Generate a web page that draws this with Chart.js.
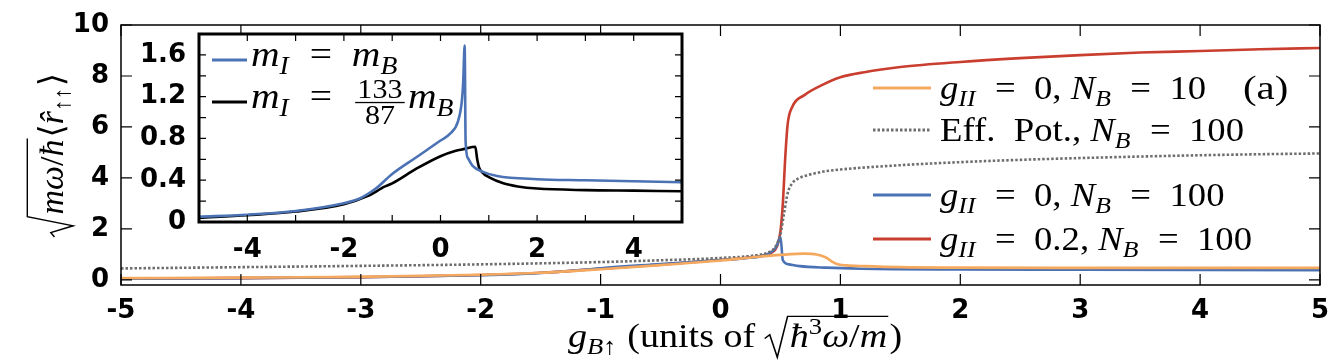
<!DOCTYPE html>
<html>
<head>
<meta charset="utf-8">
<script src="https://cdn.jsdelivr.net/npm/chart.js@4.4.1/dist/chart.umd.min.js"></script>
<style>
  html, body { margin: 0; padding: 0; background: #fff; }
  #wrap { position: relative; width: 1342px; height: 363px; }
  #wrap canvas { position: absolute; left: 0; top: 0; }
</style>
</head>
<body>
<div id="wrap">
  <canvas id="mainChart" width="1342" height="363"></canvas>
  <canvas id="insetChart" width="1342" height="363"></canvas>
</div>
<script>
// tick values
const mainXTicks = [-5, -4, -3, -2, -1, 0, 1, 2, 3, 4, 5];
const mainYTicks = [0, 2, 4, 6, 8, 10];
const insetXTicks = [-5, -4, -3, -2, -1, 0, 1, 2, 3, 4, 5];
const insetYTicks = [0, 0.2, 0.4, 0.6, 0.8, 1.0, 1.2, 1.4, 1.6];

// g_II = 0, N_B = 100 (also m_I = m_B in the inset)
const blueX = [-5, -4, -3, -2, -1.7, -1.5, -1.34, -1, -0.5, 0, 0.21, 0.36, 0.44, 0.47, 0.5, 0.52, 0.57, 0.66, 0.88, 1.17, 2, 3, 4, 5];
const blueY = [0.05, 0.07, 0.105, 0.18, 0.22, 0.27, 0.32, 0.46, 0.62, 0.78, 0.85, 0.96, 1.15, 1.34, 1.69, 0.77, 0.61, 0.54, 0.48, 0.44, 0.41, 0.40, 0.39, 0.38];

// m_I = 133/87 m_B (inset)
const blackX = [-5, -4, -3, -2, -1.5, -1.3, -1.2, -1.1, -1, -0.5, 0, 0.3, 0.5, 0.72, 0.76, 0.8, 0.9, 1, 1.3, 1.6, 2, 3, 4, 5];
const blackY = [0.04, 0.065, 0.1, 0.17, 0.25, 0.3, 0.33, 0.35, 0.37, 0.51, 0.63, 0.68, 0.7, 0.72, 0.6, 0.52, 0.46, 0.43, 0.37, 0.34, 0.32, 0.305, 0.3, 0.295];

// g_II = 0, N_B = 10
const orangeX = [-5, -4, -3, -2, -1.5, -1, -0.5, 0, 0.3, 0.5, 0.7, 0.8, 0.88, 0.93, 0.97, 1.05, 1.2, 1.5, 2, 3, 4, 5];
const orangeY = [0.07, 0.09, 0.12, 0.2, 0.28, 0.42, 0.58, 0.76, 0.9, 0.98, 1.03, 1.0, 0.88, 0.72, 0.62, 0.57, 0.54, 0.5, 0.48, 0.47, 0.47, 0.47];

// Eff. Pot., N_B = 100
const dotX = [-5, -4, -3, -2, -1, -0.5, 0, 0.3, 0.4, 0.45, 0.5, 0.53, 0.56, 0.6, 0.65, 0.72, 0.86, 1, 1.5, 2, 2.5, 3, 3.5, 4, 4.5, 5];
const dotY = [0.45, 0.5, 0.55, 0.61, 0.7, 0.77, 0.86, 0.97, 1.08, 1.25, 1.8, 2.6, 3.4, 3.8, 3.98, 4.1, 4.25, 4.33, 4.5, 4.62, 4.71, 4.78, 4.84, 4.89, 4.93, 4.96];

// g_II = 0.2, N_B = 100
const redX = [-5, -4, -3, -2, -1.5, -1, -0.5, 0, 0.2, 0.35, 0.42, 0.47, 0.5, 0.52, 0.54, 0.56, 0.6, 0.7, 0.85, 1, 1.2, 1.5, 2, 2.5, 3, 3.5, 4, 4.5, 5];
const redY = [0.05, 0.07, 0.11, 0.19, 0.28, 0.44, 0.6, 0.78, 0.86, 0.95, 1.05, 1.3, 1.9, 3.0, 4.8, 6.1, 6.8, 7.25, 7.65, 7.95, 8.15, 8.35, 8.55, 8.7, 8.82, 8.92, 8.98, 9.05, 9.1];

const BLUE = '#4a72b4';
const ORANGE = '#f4a95f';
const RED = '#c93e2e';
const GRAY = '#6e6e6e';
const SERIF = '"Liberation Serif", "DejaVu Serif", serif';
const TICKFONT = { family: 'DejaVu Sans', weight: 'bold', size: 26 };
const EQ = '\u2002=\u2002';

function pts(xs, ys) {
  return xs.map((x, i) => ({ x: x, y: ys[i] }));
}

// --- small rich text helper (italic / sub / sup / frac / sqrt) ---
function fontOf(p, size) {
  return (p.i ? 'italic ' : '') + size + 'px ' + SERIF;
}
function rich(ctx, parts, size, draw, x, y) {
  let cx = x;
  for (const p of parts) {
    if (p.frac) {
      const fs = size * 0.76;
      ctx.font = fontOf({}, fs);
      const w1 = ctx.measureText(p.frac[0]).width;
      const w2 = ctx.measureText(p.frac[1]).width;
      const w = Math.max(w1, w2) + 4;
      if (draw) {
        ctx.fillText(p.frac[0], cx + 3 + (w - w1) / 2, y - size * 0.28);
        ctx.fillText(p.frac[1], cx + 3 + (w - w2) / 2, y + size * 0.45);
        ctx.fillRect(cx + 3, y - size * 0.17, w, 1.3);
      }
      cx += w + 6;
    } else if (p.sqrt) {
      const inner = rich(ctx, p.sqrt, size, false, 0, 0);
      const rw = size * 0.6;
      if (draw) {
        const top = y - size * (p.top || 0.9), bot = y + size * 0.3;
        ctx.save();
        ctx.lineWidth = 1.4;
        ctx.beginPath();
        ctx.moveTo(cx, y - size * 0.25);
        ctx.lineTo(cx + rw * 0.22, y - size * 0.36);
        ctx.lineTo(cx + rw * 0.55, bot);
        ctx.lineTo(cx + rw, top);
        ctx.lineTo(cx + rw + inner + 3, top);
        ctx.stroke();
        ctx.restore();
        rich(ctx, p.sqrt, size, true, cx + rw + 2, y);
      }
      cx += rw + inner + 4;
    } else {
      const fs = (p.sub || p.sup) ? size * 0.7 : size;
      ctx.font = fontOf(p, fs);
      const dy = p.sub ? size * 0.22 : (p.sup ? -size * 0.38 : 0);
      if (draw) ctx.fillText(p.t, cx, y + dy);
      cx += ctx.measureText(p.t).width + (p.sub ? 1 : 0);
    }
  }
  return cx - x;
}
function drawRich(ctx, parts, size, x, y, align, sx) {
  sx = sx || 1;
  ctx.save();
  ctx.fillStyle = '#000';
  ctx.strokeStyle = '#000';
  ctx.textAlign = 'left';
  ctx.textBaseline = 'alphabetic';
  const w = rich(ctx, parts, size, false, 0, 0) * sx;
  const left = align === 'center' ? x - w / 2 : x;
  ctx.translate(left, y);
  ctx.scale(sx, 1);
  rich(ctx, parts, size, true, 0, 0);
  ctx.restore();
}

// inward ticks and frame
const innerTicks = {
  id: 'innerTicks',
  afterDatasetsDraw(chart, args, opts) {
    const { ctx, chartArea: a, scales: { x, y } } = chart;
    ctx.save();
    ctx.strokeStyle = '#000';
    ctx.lineWidth = 1.2;
    ctx.beginPath();
    x.ticks.forEach(t => {
      const px = x.getPixelForValue(t.value);
      ctx.moveTo(px, a.bottom); ctx.lineTo(px, a.bottom - opts.len);
      ctx.moveTo(px, a.top); ctx.lineTo(px, a.top + opts.len);
    });
    y.ticks.forEach(t => {
      const py = y.getPixelForValue(t.value);
      ctx.moveTo(a.left, py); ctx.lineTo(a.left + opts.len, py);
      ctx.moveTo(a.right, py); ctx.lineTo(a.right - opts.len, py);
    });
    ctx.stroke();
    ctx.lineWidth = opts.frame;
    ctx.strokeRect(a.left, a.top, a.width, a.height);
    ctx.restore();
  }
};

const whiteArea = {
  id: 'whiteArea',
  beforeDatasetsDraw(chart) {
    const { ctx, chartArea: a } = chart;
    ctx.save();
    ctx.fillStyle = '#fff';
    ctx.fillRect(a.left, a.top, a.width, a.height);
    ctx.restore();
  }
};

// legend + axis titles of the main plot
const mainDecor = {
  id: 'mainDecor',
  afterDraw(chart) {
    const ctx = chart.ctx;
    const entries = [
      { y: 88, color: ORANGE, dash: [], parts: [{ t: 'g', i: 1 }, { t: 'II', i: 1, sub: 1 }, { t: EQ + '0, ' }, { t: 'N', i: 1 }, { t: 'B', i: 1, sub: 1 }, { t: EQ + '10' }] },
      { y: 130, color: GRAY, dash: [2.5, 2], parts: [{ t: 'Eff.  Pot., ' }, { t: 'N', i: 1 }, { t: 'B', i: 1, sub: 1 }, { t: EQ + '100' }] },
      { y: 195, color: BLUE, dash: [], parts: [{ t: 'g', i: 1 }, { t: 'II', i: 1, sub: 1 }, { t: EQ + '0, ' }, { t: 'N', i: 1 }, { t: 'B', i: 1, sub: 1 }, { t: EQ + '100' }] },
      { y: 239, color: RED, dash: [], parts: [{ t: 'g', i: 1 }, { t: 'II', i: 1, sub: 1 }, { t: EQ + '0.2, ' }, { t: 'N', i: 1 }, { t: 'B', i: 1, sub: 1 }, { t: EQ + '100' }] }
    ];
    entries.forEach(e => {
      ctx.save();
      ctx.strokeStyle = e.color;
      ctx.lineWidth = 3;
      ctx.setLineDash(e.dash);
      ctx.beginPath();
      ctx.moveTo(873, e.y); ctx.lineTo(931, e.y);
      ctx.stroke();
      ctx.restore();
      drawRich(ctx, e.parts, 34, 940, e.y + 11, 'left', 1.08);
    });
    drawRich(ctx, [{ t: '(a)' }], 34, 1243, 99, 'left', 1.2);

    // x title
    drawRich(ctx, [{ t: 'g', i: 1 }, { t: 'B\u2191', i: 1, sub: 1 }, { t: ' (units of ' },
      { sqrt: [{ t: '\u0127', i: 1 }, { t: '3', sup: 1 }, { t: '\u03c9', i: 1 }, { t: '/' }, { t: 'm', i: 1 }] }, { t: ')' }],
      34, 735, 347, 'center', 1.12);

    // y title (rotated)
    ctx.save();
    ctx.translate(63, 155);
    ctx.rotate(-Math.PI / 2);
    drawRich(ctx, [{ sqrt: [{ t: 'm\u03c9', i: 1 }, { t: '/' }, { t: '\u0127', i: 1 }], top: 1.05 }, { t: '\u27e8' }, { t: 'r\u0302', i: 1 }, { t: '\u2191\u2191', sub: 1 }, { t: '\u27e9' }],
      34, 0, 0, 'center', 1.0);
    ctx.restore();
  }
};

const insetDecor = {
  id: 'insetDecor',
  afterDraw(chart) {
    const ctx = chart.ctx;
    const entries = [
      { y: 60, color: BLUE, parts: [{ t: 'm', i: 1 }, { t: 'I', i: 1, sub: 1 }, { t: EQ }, { t: 'm', i: 1 }, { t: 'B', i: 1, sub: 1 }] },
      { y: 102, color: '#000', parts: [{ t: 'm', i: 1 }, { t: 'I', i: 1, sub: 1 }, { t: EQ }, { frac: ['133', '87'] }, { t: 'm', i: 1 }, { t: 'B', i: 1, sub: 1 }] }
    ];
    entries.forEach(e => {
      ctx.save();
      ctx.strokeStyle = e.color;
      ctx.lineWidth = 3;
      ctx.beginPath();
      ctx.moveTo(212, e.y); ctx.lineTo(247, e.y);
      ctx.stroke();
      ctx.restore();
      drawRich(ctx, e.parts, 36, 251, e.y + 6, 'left', 1.1);
    });
  }
};

document.addEventListener('DOMContentLoaded', function () {
  const lineDs = (label, xs, ys, color, dash) => ({
    label: label,
    data: pts(xs, ys),
    borderColor: color,
    borderWidth: 2.6,
    borderDash: dash || [],
    pointRadius: 0,
    cubicInterpolationMode: 'monotone',
    fill: false
  });

  new Chart(document.getElementById('mainChart').getContext('2d'), {
    type: 'line',
    data: {
      datasets: [
        lineDs('g_II = 0, N_B = 10', orangeX, orangeY, ORANGE),
        lineDs('Eff. Pot., N_B = 100', dotX, dotY, GRAY, [2.5, 2]),
        lineDs('g_II = 0, N_B = 100', blueX, blueY, BLUE),
        lineDs('g_II = 0.2, N_B = 100', redX, redY, RED)
      ]
    },
    options: {
      responsive: false,
      animation: false,
      devicePixelRatio: 1,
      layout: { padding: { left: 0, top: 25, right: 22, bottom: 0 } },
      plugins: { legend: { display: false }, tooltip: { enabled: false }, innerTicks: { len: 11, frame: 1.5 } },
      scales: {
        x: {
          type: 'linear', min: -5, max: 5,
          afterBuildTicks: s => { s.ticks = mainXTicks.map(v => ({ value: v })); },
          afterFit: s => { s.height = 78; },
          grid: { display: false },
          border: { display: false },
          ticks: { color: '#000', font: TICKFONT, padding: 3, maxRotation: 0 }
        },
        y: {
          type: 'linear', min: -0.2, max: 10,
          afterBuildTicks: s => { s.ticks = mainYTicks.map(v => ({ value: v })); },
          afterFit: s => { s.width = 121; },
          grid: { display: false },
          border: { display: false },
          ticks: { color: '#000', font: TICKFONT, padding: 4 }
        }
      }
    },
    plugins: [innerTicks, mainDecor]
  });

  new Chart(document.getElementById('insetChart').getContext('2d'), {
    type: 'line',
    data: {
      datasets: [
        lineDs('m_I = m_B', blueX, blueY, BLUE),
        lineDs('m_I = 133/87 m_B', blackX, blackY, '#000')
      ]
    },
    options: {
      responsive: false,
      animation: false,
      devicePixelRatio: 1,
      layout: { padding: { left: 0, top: 34, right: 660, bottom: 0 } },
      plugins: { legend: { display: false }, tooltip: { enabled: false }, innerTicks: { len: 7, frame: 3 } },
      scales: {
        x: {
          type: 'linear', min: -5, max: 5,
          afterBuildTicks: s => { s.ticks = insetXTicks.map(v => ({ value: v })); },
          afterFit: s => { s.height = 141; },
          grid: { display: false },
          border: { display: false },
          ticks: {
            color: '#000', font: TICKFONT, padding: 5, maxRotation: 0, autoSkip: false,
            callback: v => (v % 2 === 0 && Math.abs(v) < 5) ? String(v) : ''
          }
        },
        y: {
          type: 'linear', min: 0, max: 1.8,
          afterBuildTicks: s => { s.ticks = insetYTicks.map(v => ({ value: v })); },
          afterFit: s => { s.width = 199; },
          grid: { display: false },
          border: { display: false },
          ticks: {
            color: '#000', font: TICKFONT, padding: 5, autoSkip: false,
            callback: v => {
              const r = Math.round(v * 10);
              if (r === 0) return '0';
              return r % 4 === 0 ? (r / 10).toFixed(1) : '';
            }
          }
        }
      }
    },
    plugins: [whiteArea, innerTicks, insetDecor]
  });
});
</script>
</body>
</html>
